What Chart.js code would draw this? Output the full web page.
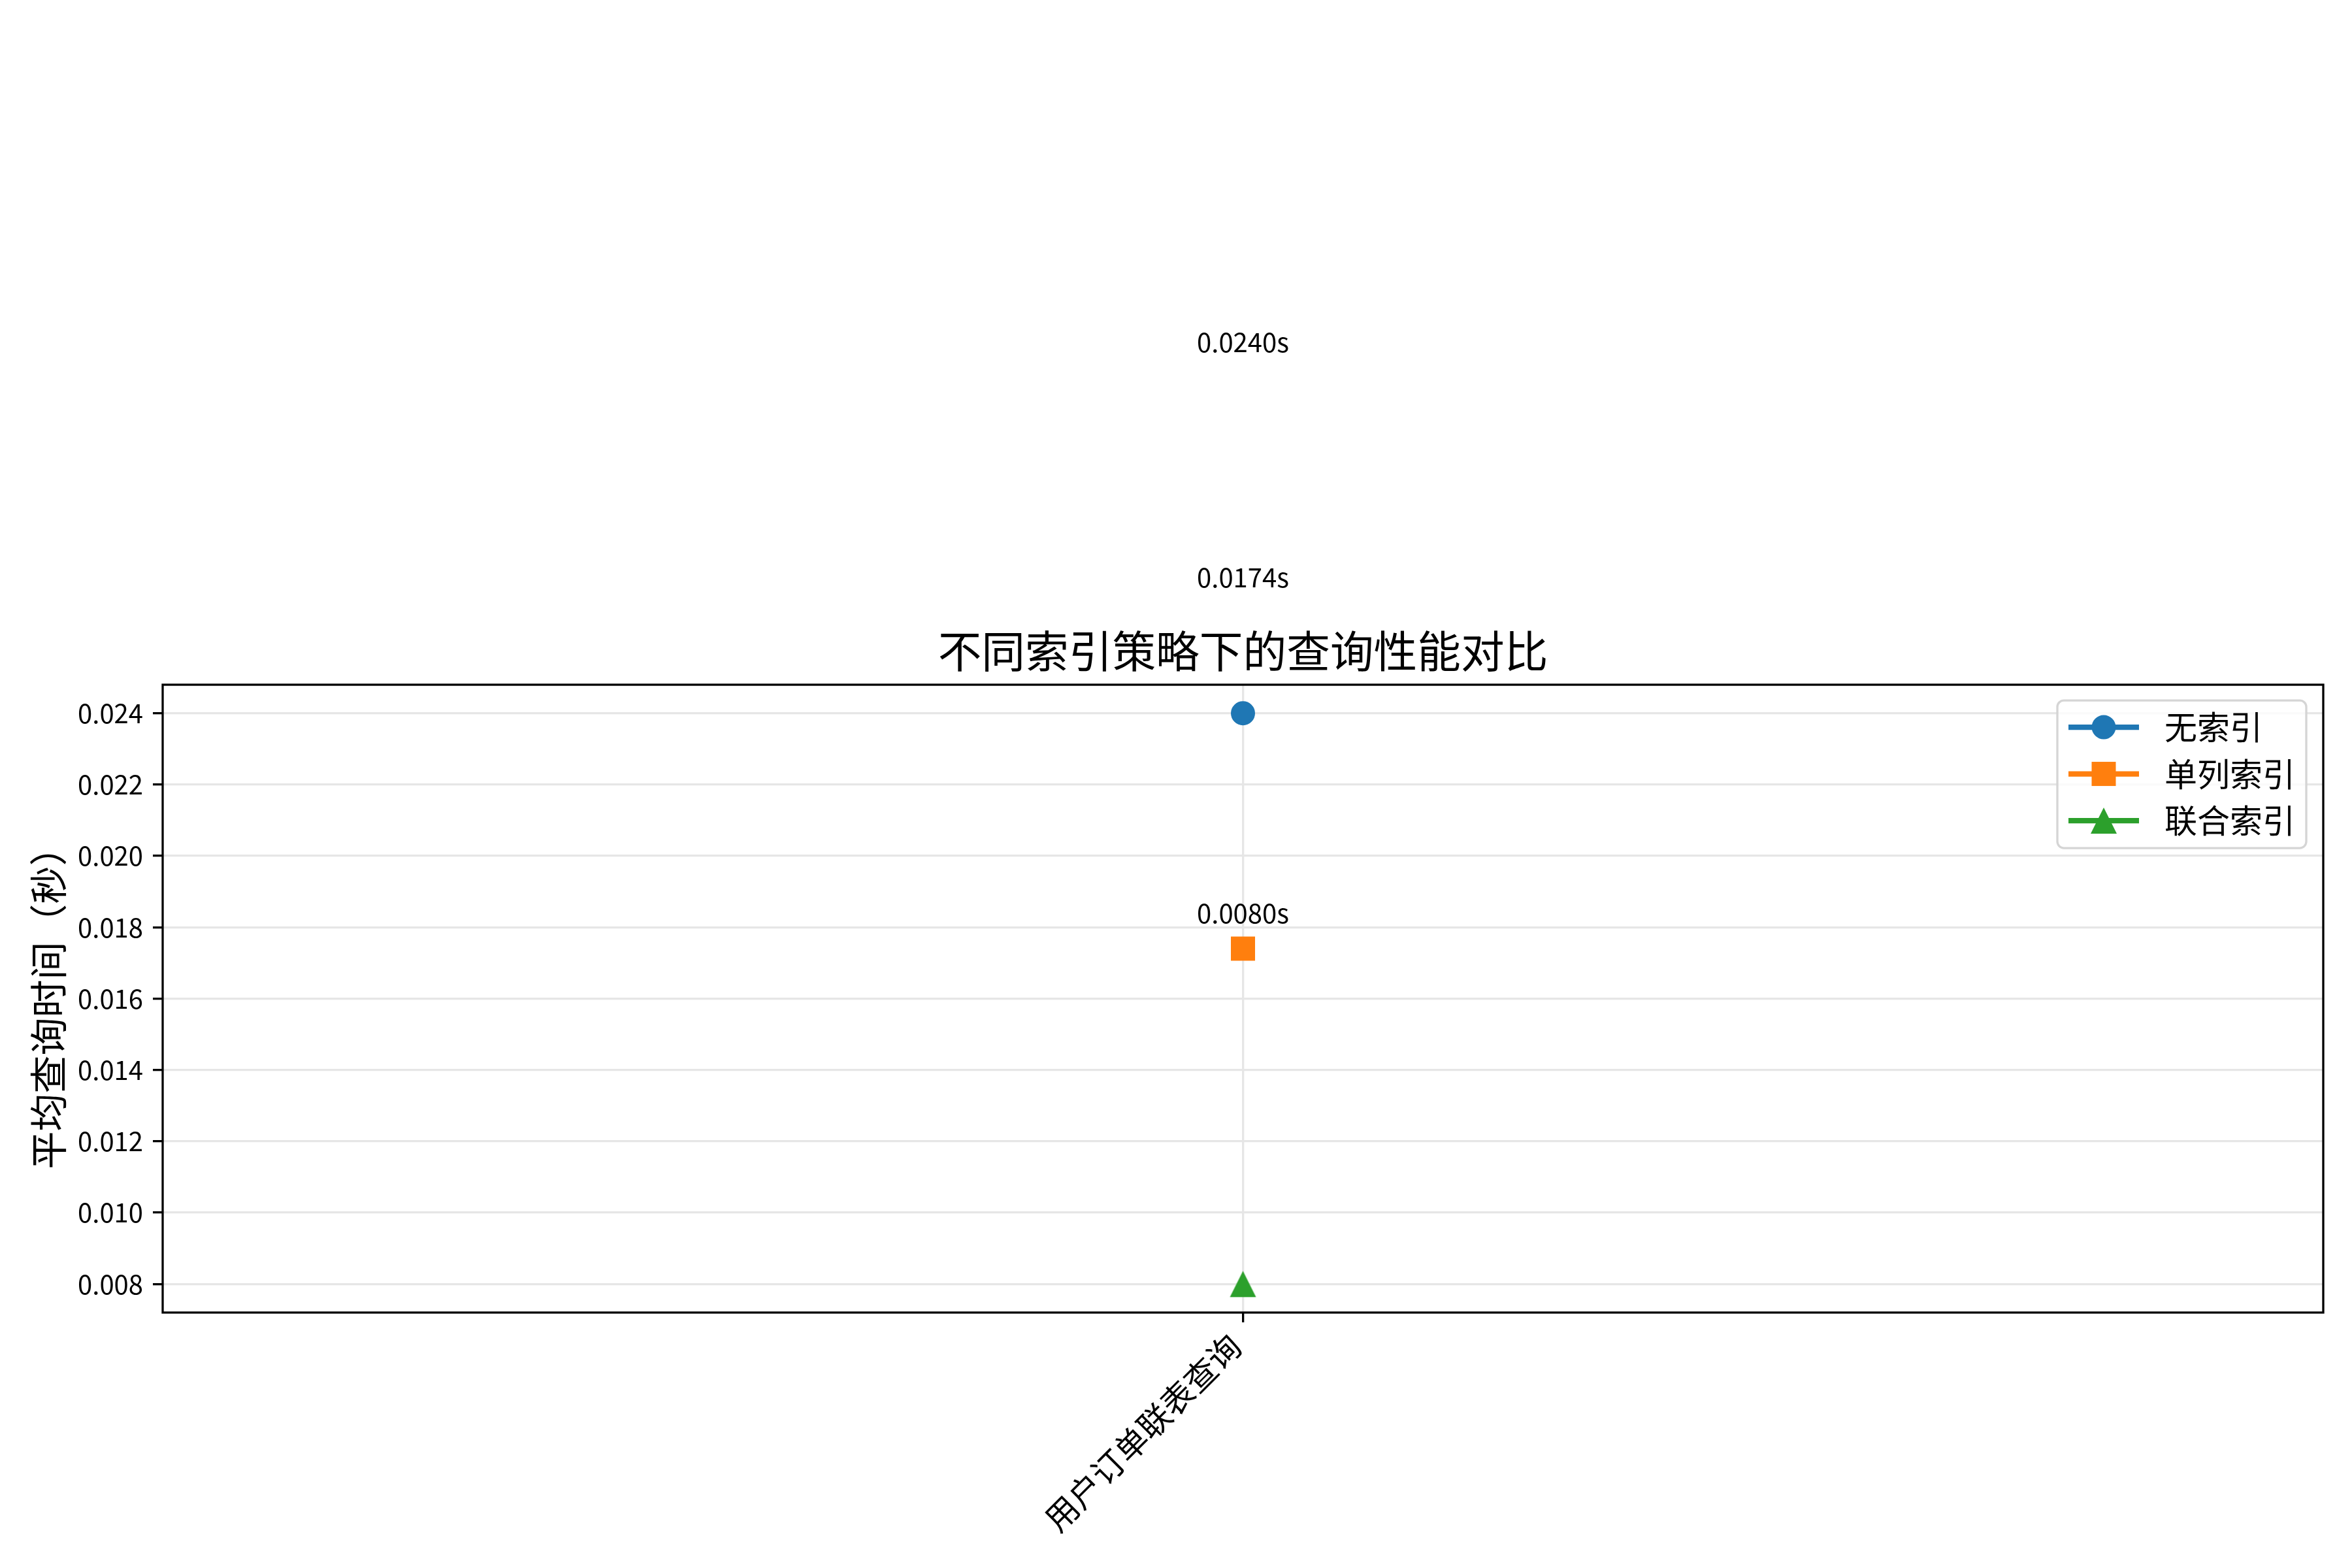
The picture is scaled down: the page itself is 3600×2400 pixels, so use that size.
<!DOCTYPE html>
<html>
<head>
<meta charset="utf-8">
<script src="https://cdn.jsdelivr.net/npm/chart.js@4.4.0/dist/chart.umd.min.js"></script>
<style>
html,body{margin:0;padding:0;background:#ffffff;}
#wrap{width:3600px;height:2400px;}
</style>
</head>
<body>
<div id="wrap"><canvas id="c" width="3600" height="2400"></canvas></div>
<script>
// ---- data ----
const categories = ['用户订单联表查询'];
const seriesNames = ['无索引', '单列索引', '联合索引'];
const noIndexTimes = [0.0240];
const singleIndexTimes = [0.0174];
const compositeIndexTimes = [0.0080];
const yTickValues = [0.008, 0.010, 0.012, 0.014, 0.016, 0.018, 0.020, 0.022, 0.024];
const yMin = 0.0072;
const yMax = 0.0248;
const valueLabelOffset = 0.0104;
const chartTitle = '不同索引策略下的查询性能对比';
const yAxisTitle = '平均查询时间（秒）';

// ---- styles ----
const FONT = '"Noto Sans CJK SC", "Noto Sans", sans-serif';
const colors = ['#1f77b4', '#ff7f0e', '#2ca02c'];

function triangleCanvas(color) {
  const c = document.createElement('canvas');
  c.width = 42; c.height = 42;
  const g = c.getContext('2d');
  g.fillStyle = color;
  g.beginPath();
  g.moveTo(21, 1);
  g.lineTo(41, 41);
  g.lineTo(1, 41);
  g.closePath();
  g.fill();
  return c;
}
const triImg = triangleCanvas(colors[2]);

const seriesValues = [noIndexTimes, singleIndexTimes, compositeIndexTimes];
const pointStyles = ['circle', 'rect', triImg];
const pointRadii = [16.5, 23.3, 21];

const datasets = seriesNames.map((name, i) => ({
  label: name,
  data: seriesValues[i],
  borderColor: colors[i],
  backgroundColor: colors[i],
  borderWidth: 8.3,
  pointStyle: pointStyles[i],
  pointRadius: pointRadii[i],
  pointBorderWidth: 4,
  pointBorderColor: colors[i],
  pointBackgroundColor: colors[i],
  showLine: true
}));

const framePlugin = {
  id: 'frame',
  beforeDatasetsDraw(chart) {
    const {ctx, chartArea: a} = chart;
    ctx.save();
    ctx.strokeStyle = '#000';
    ctx.lineWidth = 3.3;
    ctx.strokeRect(a.left, a.top, a.right - a.left, a.bottom - a.top);
    ctx.restore();
  }
};

const valueLabelPlugin = {
  id: 'valueLabels',
  afterDatasetsDraw(chart) {
    const {ctx} = chart;
    const xs = chart.scales.x, ys = chart.scales.y;
    ctx.save();
    ctx.fillStyle = '#000';
    ctx.font = '40px ' + FONT;
    ctx.textAlign = 'center';
    ctx.textBaseline = 'middle';
    chart.data.datasets.forEach(ds => {
      ds.data.forEach((v, i) => {
        const x = xs.getPixelForValue(i);
        const y = ys.getPixelForValue(v + valueLabelOffset);
        ctx.fillText(v.toFixed(4) + 's', x, y);
      });
    });
    ctx.restore();
  }
};

const legendPlugin = {
  id: 'customLegend',
  afterDraw(chart) {
    const {ctx, chartArea: a} = chart;
    const boxW = 381, boxH = 226;
    const x0 = a.right - 26 - boxW, y0 = a.top + 24;
    const r = 10;
    ctx.save();
    ctx.beginPath();
    ctx.moveTo(x0 + r, y0);
    ctx.lineTo(x0 + boxW - r, y0);
    ctx.arcTo(x0 + boxW, y0, x0 + boxW, y0 + r, r);
    ctx.lineTo(x0 + boxW, y0 + boxH - r);
    ctx.arcTo(x0 + boxW, y0 + boxH, x0 + boxW - r, y0 + boxH, r);
    ctx.lineTo(x0 + r, y0 + boxH);
    ctx.arcTo(x0, y0 + boxH, x0, y0 + boxH - r, r);
    ctx.lineTo(x0, y0 + r);
    ctx.arcTo(x0, y0, x0 + r, y0, r);
    ctx.closePath();
    ctx.fillStyle = 'rgba(255,255,255,0.8)';
    ctx.fill();
    ctx.strokeStyle = '#d5d5d5';
    ctx.lineWidth = 3.3;
    ctx.stroke();

    chart.data.datasets.forEach((ds, i) => {
      const cy = y0 + 41 + i * 71.5;
      ctx.strokeStyle = ds.borderColor;
      ctx.lineWidth = 8.3;
      ctx.beginPath();
      ctx.moveTo(x0 + 17, cy);
      ctx.lineTo(x0 + 125, cy);
      ctx.stroke();
      const mx = x0 + 71;
      ctx.fillStyle = ds.backgroundColor;
      if (ds.pointStyle === 'circle') {
        ctx.beginPath();
        ctx.arc(mx, cy, 18.5, 0, Math.PI * 2);
        ctx.fill();
      } else if (ds.pointStyle === 'rect') {
        ctx.fillRect(mx - 18.5, cy - 18.5, 37, 37);
      } else {
        ctx.drawImage(ds.pointStyle, mx - 21, cy - 21);
      }
      ctx.fillStyle = '#000';
      ctx.font = '50px ' + FONT;
      ctx.textAlign = 'left';
      ctx.textBaseline = 'middle';
      ctx.fillText(ds.label, x0 + 164, cy);
    });
    ctx.restore();
  }
};

new Chart(document.getElementById('c'), {
  type: 'line',
  data: { labels: categories, datasets: datasets },
  options: {
    responsive: false,
    animation: false,
    devicePixelRatio: 1,
    layout: { padding: { top: 957, left: 0, right: 44, bottom: 0 } },
    plugins: {
      legend: { display: false },
      tooltip: { enabled: false },
      title: {
        display: true,
        text: chartTitle,
        fullSize: false,
        color: '#000',
        font: { family: FONT, size: 66.7, weight: 'normal' },
        padding: { top: 0, bottom: 11 }
      }
    },
    scales: {
      x: {
        type: 'category',
        offset: true,
        grid: {
          offset: false,
          color: '#e6e6e6',
          lineWidth: 3.3,
          drawTicks: true,
          tickLength: 15,
          tickColor: '#000',
          tickWidth: 3.3
        },
        border: { display: false },
        ticks: {
          color: '#000',
          font: { family: FONT, size: 50 },
          minRotation: 45,
          maxRotation: 45,
          padding: 6,
          labelOffset: -12
        },
        afterFit(scale) { scale.height = 391; }
      },
      y: {
        type: 'linear',
        min: yMin,
        max: yMax,
        grid: {
          color: '#e6e6e6',
          lineWidth: 3.3,
          drawTicks: true,
          tickLength: 15,
          tickColor: '#000',
          tickWidth: 3.3
        },
        border: { display: false },
        ticks: {
          color: '#000',
          font: { family: FONT, size: 40 },
          padding: 15,
          callback: (v) => Number(v).toFixed(3)
        },
        afterBuildTicks(scale) {
          scale.ticks = yTickValues.map(v => ({ value: v }));
        },
        title: {
          display: true,
          text: yAxisTitle,
          color: '#000',
          font: { family: FONT, size: 58 },
          padding: { top: 39, bottom: 0 }
        },
        afterFit(scale) { scale.width = 249; }
      }
    }
  },
  plugins: [framePlugin, valueLabelPlugin, legendPlugin]
});
</script>
</body>
</html>
